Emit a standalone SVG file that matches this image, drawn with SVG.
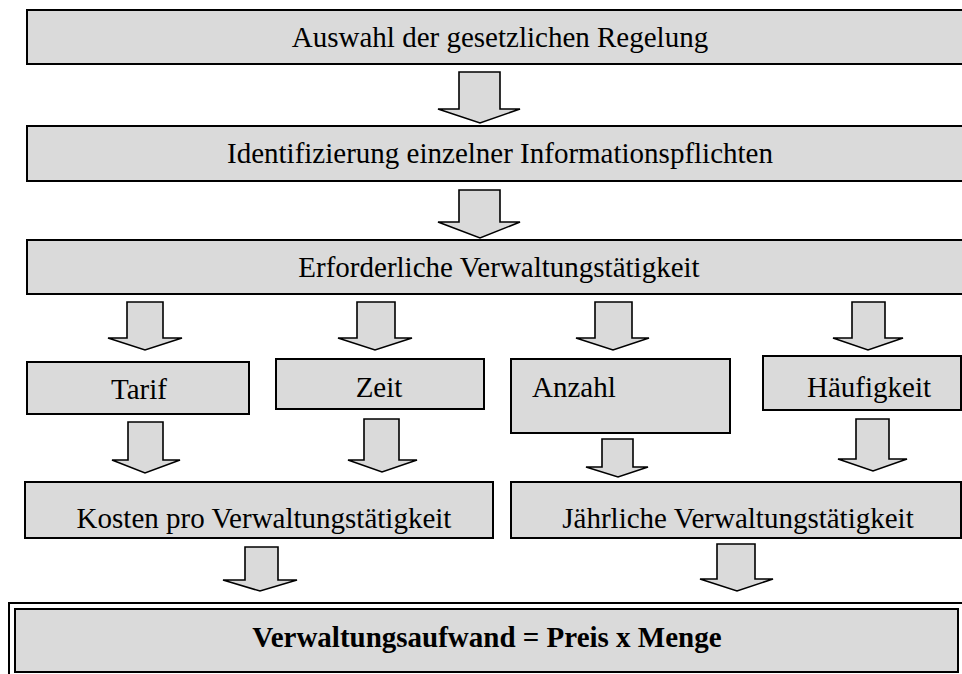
<svg xmlns="http://www.w3.org/2000/svg" width="962" height="674" viewBox="0 0 962 674">
<style>
.box{fill:#dadada;stroke:#000;stroke-width:2}
.arr{fill:#dadada;stroke:#000;stroke-width:1.6;stroke-linejoin:miter}
.t{font-family:"Liberation Serif","Times New Roman",serif;font-size:29px;fill:#000;text-anchor:middle}
.b{font-weight:bold}
</style>
<rect width="962" height="674" fill="#fff"/>
<g id="n1"><rect class="box" x="27" y="10" width="950" height="54"/><text class="t" x="500" y="47">Auswahl der gesetzlichen Regelung</text></g>
<g id="n2"><rect class="box" x="27" y="126" width="950" height="55"/><text class="t" x="500" y="163">Identifizierung einzelner Informationspflichten</text></g>
<g id="n3"><rect class="box" x="27" y="240" width="950" height="54"/><text class="t" x="499" y="277">Erforderliche Verwaltungstätigkeit</text></g>
<g id="n4"><rect class="box" x="27" y="362" width="222" height="52"/><text class="t" x="139" y="399">Tarif</text></g>
<g id="n5"><rect class="box" x="276" y="359" width="208" height="50"/><text class="t" x="379" y="397">Zeit</text></g>
<g id="n6"><rect class="box" x="511" y="359" width="219" height="74"/><text class="t" x="532" y="397" style="text-anchor:start">Anzahl</text></g>
<g id="n7"><rect class="box" x="763" y="356" width="198" height="54"/><text class="t" x="869" y="397">Häufigkeit</text></g>
<g id="n8"><rect class="box" x="25" y="482" width="468" height="56"/><text class="t" x="264" y="528">Kosten pro Verwaltungstätigkeit</text></g>
<g id="n9"><rect class="box" x="511" y="482" width="450" height="56"/><text class="t" x="738" y="528">Jährliche Verwaltungstätigkeit</text></g>
<g id="n10"><rect x="9" y="603" width="970" height="80" fill="#fff" stroke="#000" stroke-width="2"/><rect class="box" x="15" y="609" width="943" height="63" stroke-width="2.5"/><text class="t b" x="487" y="647">Verwaltungsaufwand = Preis x Menge</text></g>
<g id="connectors">
<path class="arr" d="M459,72H500V109H520L480,123L438,109H459Z"/>
<path class="arr" d="M459,190H500V222H520L480,238L438,222H459Z"/>
<path class="arr" d="M127,302H163V338H182L145,350L108,338H127Z"/>
<path class="arr" d="M357,302H395V338H412L375,350L338,338H357Z"/>
<path class="arr" d="M595,302H632V338H649L613,350L576,338H595Z"/>
<path class="arr" d="M852,302H885V338H903L868,350L833,338H852Z"/>
<path class="arr" d="M128,422H163V460H180L145,473L112,460H128Z"/>
<path class="arr" d="M364,419H399V460H417L382,472L348,460H364Z"/>
<path class="arr" d="M602,439H633V467H648L618,477L586,467H602Z"/>
<path class="arr" d="M856,419H889V459H907L873,471L838,459H856Z"/>
<path class="arr" d="M245,547H278V580H297L260,591L223,580H245Z"/>
<path class="arr" d="M717,544H755V579H773L737,591L700,579H717Z"/>
</g>
</svg>
